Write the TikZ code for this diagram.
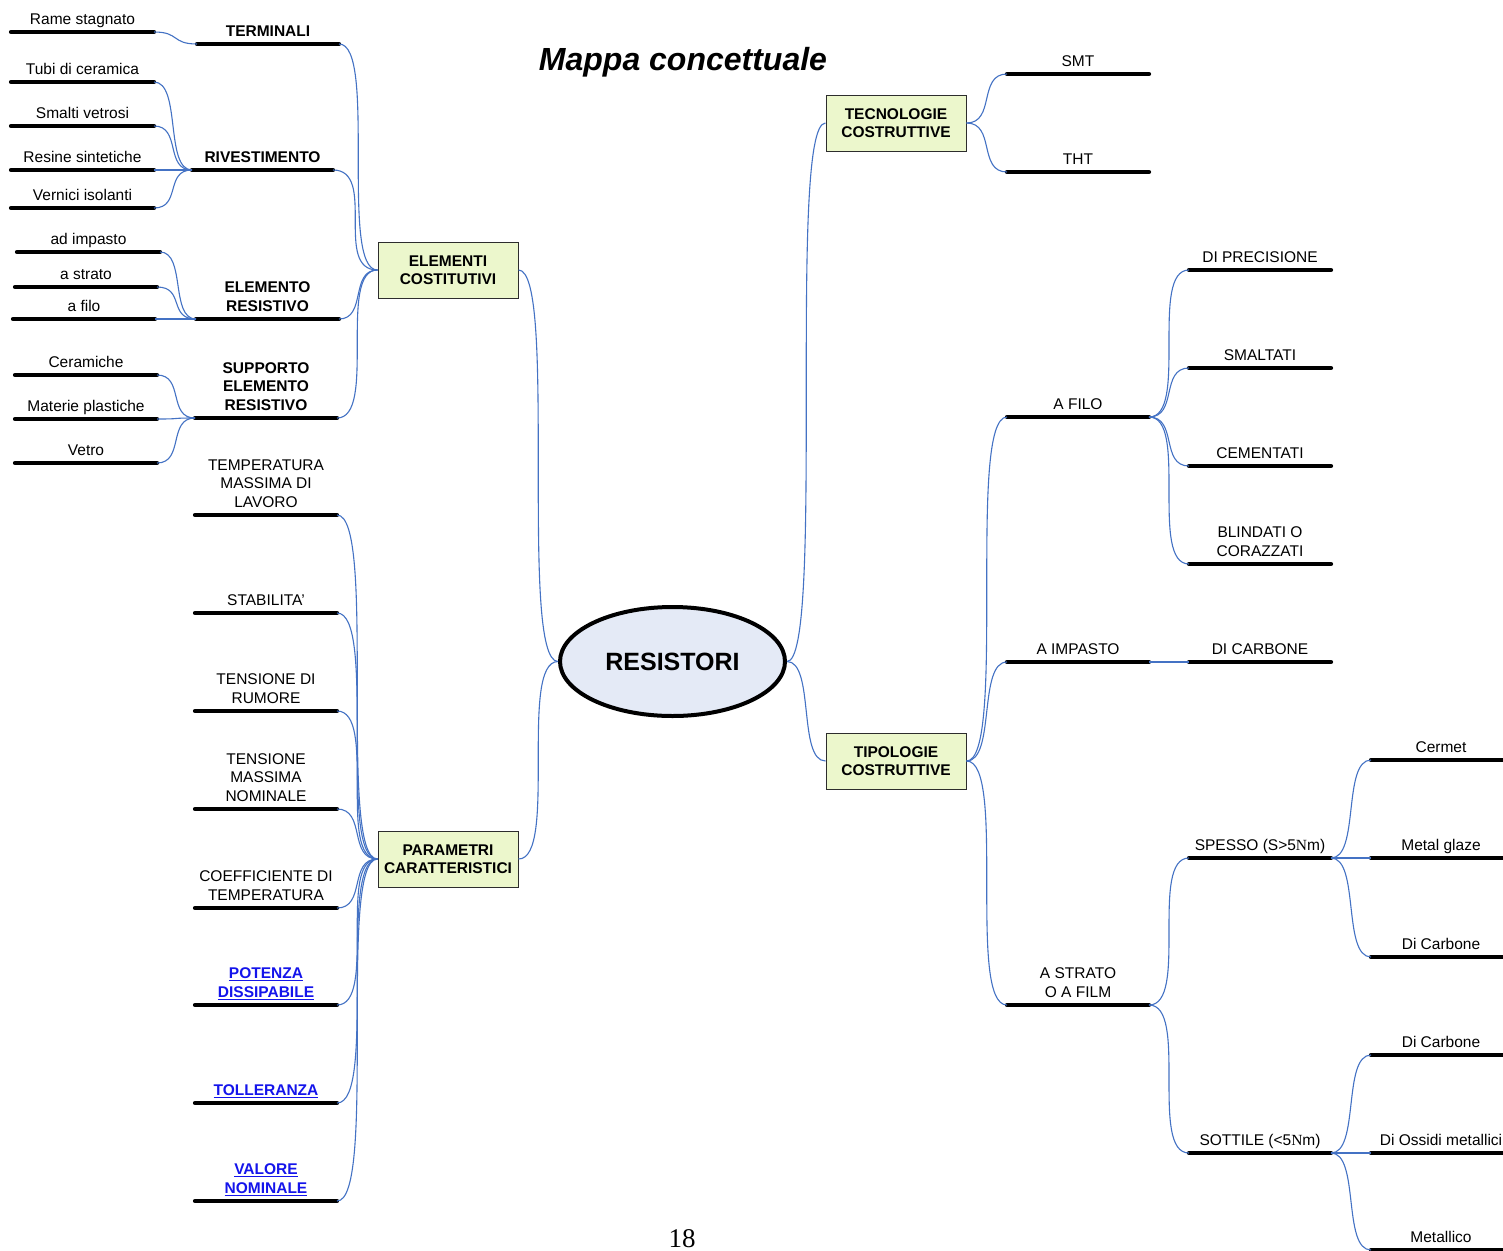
\documentclass[tikz,border=0pt]{standalone}
\usepackage{fontspec}
\setmainfont{Liberation Sans}
\newfontfamily\serifN{Liberation Serif}
\usetikzlibrary{shapes.geometric,calc}
\definecolor{conncol}{RGB}{68,114,196}
\definecolor{boxfill}{RGB}{236,247,204}
\definecolor{ellfill}{RGB}{228,234,246}
\definecolor{linkcol}{RGB}{20,20,235}
\newcommand\lblfont{\fontsize{15.5}{18.5}\selectfont}
% #1 name, #2 x1, #3 x2, #4 y, #5 style, #6 text
\newcommand\brn[6]{%
  \coordinate (#1L) at (#2,#4);
  \coordinate (#1R) at (#3,#4);
  \draw[barln] (#1L) -- (#1R);
  \node[#5] (#1) at ({(#2+#3)/2},{#4-2}) {#6\strut};
}
% optional #1: curve tension; -1 = automatic
\newcommand\conn[3][-1]{%
  \draw[cn] let \p1=(#2), \p2=(#3),
    \n1={(#1<0) ? ((abs(\y2-(\y1))>99.5) ? 1 : 0.72) : #1} in
    (\p1) .. controls ({\x1+\n1*(\x2-\x1)},\y1) and ({\x2-\n1*(\x2-\x1)},\y2) .. (\p2);
}
\begin{document}
\begin{tikzpicture}[x=1pt,y=-1pt,
  lbl/.style={font=\lblfont, align=center, inner sep=0pt, anchor=south},
  blbl/.style={lbl, font=\lblfont\bfseries},
  link/.style={blbl, text=linkcol},
  barln/.style={line width=4.2pt, line cap=round, black},
  cn/.style={draw=conncol, line width=1.1pt},
  box/.style={draw={rgb,255:red,45;green,45;blue,45}, line width=1pt, fill=boxfill,
    minimum width=140pt, minimum height=56pt, inner sep=0pt, align=center,
    font=\lblfont\bfseries}]
\fill[white] (0,0) rectangle (1503,1250);
\useasboundingbox (0,0) rectangle (1503,1250);

% title and page number
\node[font=\fontsize{32}{38}\selectfont\bfseries\itshape, anchor=base] (title) at (683,70.5) {Mappa concettuale};
\node[font=\serifN\fontsize{27}{31}\selectfont, anchor=base] (pg) at (682,1247) {18};

% main nodes
\node[box] (elem) at (448,270) {ELEMENTI\\COSTITUTIVI};
\node[box] (param) at (448,859) {PARAMETRI\\CARATTERISTICI};
\node[box] (tec) at (896,123) {TECNOLOGIE\\COSTRUTTIVE};
\node[box] (tip) at (896,761) {TIPOLOGIE\\COSTRUTTIVE};
\node[ellipse, draw, line width=4pt, fill=ellfill, minimum width=225pt, minimum height=109pt,
  inner sep=0pt, font=\fontsize{25}{30}\selectfont\bfseries] (res) at (672.5,661.5) {RESISTORI};

% left: elementi costitutivi
\brn{rame}{11}{154}{32}{lbl}{Rame stagnato}
\brn{term}{197}{339}{44}{blbl}{TERMINALI}
\brn{tubi}{11}{154}{82}{lbl}{Tubi di ceramica}
\brn{smalti}{11}{154}{126}{lbl}{Smalti vetrosi}
\brn{resine}{11}{154}{170}{lbl}{Resine sintetiche}
\brn{vernici}{11}{154}{208}{lbl}{Vernici isolanti}
\brn{riv}{192}{333}{170}{blbl}{RIVESTIMENTO}
\brn{imp}{17}{160}{252}{lbl}{ad impasto}
\brn{strato}{15}{157}{287}{lbl}{a strato}
\brn{filo}{13}{155}{319}{lbl}{a filo}
\brn{elres}{196}{339}{319}{blbl}{ELEMENTO\\RESISTIVO}
\brn{cer}{15}{157}{375}{lbl}{Ceramiche}
\brn{mat}{15}{157}{419}{lbl}{Materie plastiche}
\brn{vet}{15}{157}{463}{lbl}{Vetro}
\brn{supp}{195}{337}{418}{blbl}{SUPPORTO\\ELEMENTO\\RESISTIVO}

% left: parametri
\brn{tmax}{195}{337}{515}{lbl}{TEMPERATURA\\MASSIMA DI\\LAVORO}
\brn{stab}{195}{337}{613}{lbl}{STABILITA'}
\brn{trum}{195}{337}{711}{lbl}{TENSIONE DI\\RUMORE}
\brn{tnom}{195}{337}{809}{lbl}{TENSIONE\\MASSIMA\\NOMINALE}
\brn{coef}{195}{337}{908}{lbl}{COEFFICIENTE DI\\TEMPERATURA}
\brn{pot}{195}{337}{1005}{link}{\underline{POTENZA}\\\underline{DISSIPABILE}}
\brn{toll}{195}{337}{1103}{link}{\underline{TOLLERANZA}}
\brn{val}{195}{337}{1201}{link}{\underline{VALORE}\\\underline{NOMINALE}}

% right
\brn{smt}{1007}{1149}{74}{lbl}{SMT}
\brn{tht}{1007}{1149}{172}{lbl}{THT}
\brn{afilo}{1007}{1149}{417}{lbl}{A FILO}
\brn{aimp}{1007}{1149}{662}{lbl}{A IMPASTO}
\brn{astr}{1007}{1149}{1005}{lbl}{A STRATO\\O A FILM}
\brn{prec}{1189}{1331}{270}{lbl}{DI PRECISIONE}
\brn{smalt}{1189}{1331}{368}{lbl}{SMALTATI}
\brn{cem}{1189}{1331}{466}{lbl}{CEMENTATI}
\brn{blind}{1189}{1331}{564}{lbl}{BLINDATI O\\CORAZZATI}
\brn{dcarb}{1189}{1331}{662}{lbl}{DI CARBONE}
\brn{spes}{1189}{1331}{858}{lbl}{SPESSO (S>5{\serifN N}m)}
\brn{sott}{1189}{1331}{1153}{lbl}{SOTTILE (<5{\serifN N}m)}
\brn{cermet}{1371}{1511}{760}{lbl}{Cermet}
\brn{metal}{1371}{1511}{858}{lbl}{Metal glaze}
\brn{dcarbb}{1371}{1511}{957}{lbl}{Di Carbone}
\brn{dcarbc}{1371}{1511}{1055}{lbl}{Di Carbone}
\brn{ossidi}{1371}{1511}{1153}{lbl}{Di Ossidi metallici}
\brn{metll}{1371}{1511}{1250}{lbl}{Metallico}

% connectors
\conn{elem.east}{res.west}
\conn{param.east}{res.west}
\conn{res.east}{tec.west}
\conn{res.east}{tip.west}

\conn{termR}{elem.west}
\conn{rivR}{elem.west}
\conn{elresR}{elem.west}
\conn{suppR}{elem.west}
\conn[0.6]{rameR}{termL}
\conn{tubiR}{rivL}
\conn{smaltiR}{rivL}
\conn{resineR}{rivL}
\conn{verniciR}{rivL}
\conn{impR}{elresL}
\conn{stratoR}{elresL}
\conn{filoR}{elresL}
\conn{cerR}{suppL}
\conn{matR}{suppL}
\conn{vetR}{suppL}

\conn{tmaxR}{param.west}
\conn{stabR}{param.west}
\conn{trumR}{param.west}
\conn{tnomR}{param.west}
\conn{coefR}{param.west}
\conn{potR}{param.west}
\conn{tollR}{param.west}
\conn{valR}{param.west}

\conn{tec.east}{smtL}
\conn{tec.east}{thtL}
\conn{tip.east}{afiloL}
\conn{tip.east}{aimpL}
\conn{tip.east}{astrL}
\conn{afiloR}{precL}
\conn{afiloR}{smaltL}
\conn{afiloR}{cemL}
\conn{afiloR}{blindL}
\conn{aimpR}{dcarbL}
\conn{astrR}{spesL}
\conn{astrR}{sottL}
\conn{spesR}{cermetL}
\conn{spesR}{metalL}
\conn{spesR}{dcarbbL}
\conn{sottR}{dcarbcL}
\conn{sottR}{ossidiL}
\conn{sottR}{metllL}
\end{tikzpicture}
\end{document}
